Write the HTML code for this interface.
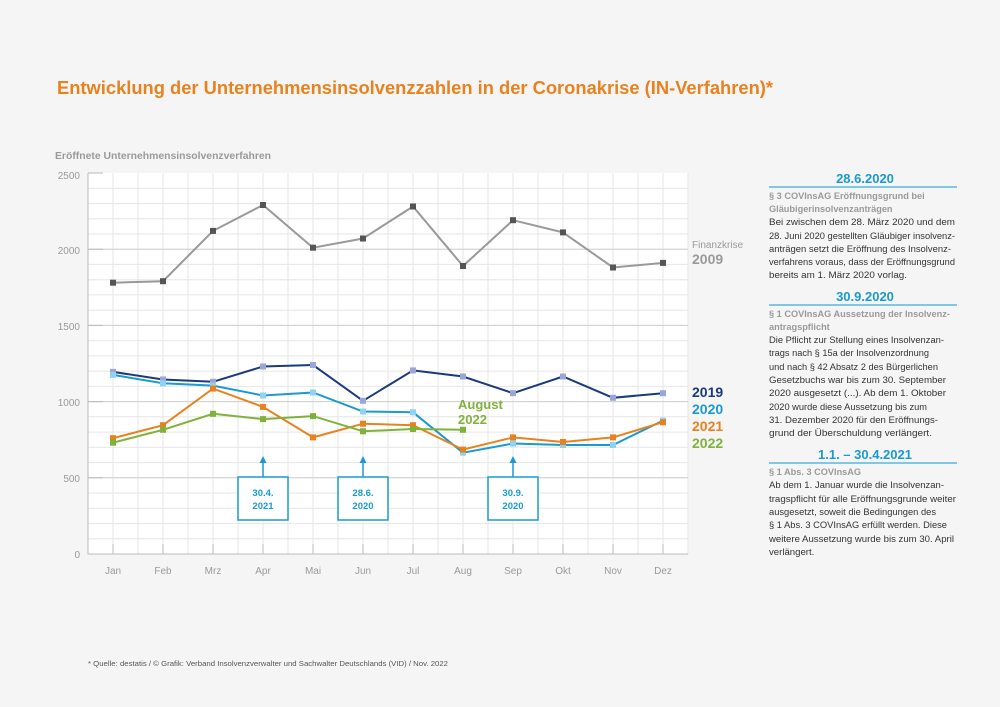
<!DOCTYPE html>
<html><head><meta charset="utf-8"><style>
html,body{margin:0;padding:0;background:#f5f5f5;}
svg{display:block;font-family:"Liberation Sans",sans-serif;}
</style></head><body>
<svg width="1000" height="707" viewBox="0 0 1000 707" xmlns="http://www.w3.org/2000/svg">
<rect width="1000" height="707" fill="#f5f5f5"/>
<text x="57" y="94" font-size="18" font-weight="bold" fill="#e8821e" textLength="716" lengthAdjust="spacingAndGlyphs">Entwicklung der Unternehmensinsolvenzzahlen in der Coronakrise (IN-Verfahren)*</text>
<text x="55" y="159" font-size="10" font-weight="bold" fill="#9a9a9a" textLength="216" lengthAdjust="spacingAndGlyphs">Eröffnete Unternehmensinsolvenzverfahren</text>
<rect x="88" y="173" width="600" height="381" fill="#fff"/>
<g stroke="#e6e6e6" stroke-width="1">
<path d="M88 188.2H688M88 203.5H688M88 218.7H688M88 234H688M88 249.2H688M88 264.4H688M88 279.7H688M88 294.9H688M88 310.2H688M88 325.4H688M88 340.6H688M88 355.9H688M88 371.1H688M88 386.4H688M88 401.6H688M88 416.8H688M88 432.1H688M88 447.3H688M88 462.6H688M88 477.8H688M88 493H688M88 508.3H688M88 523.5H688M88 538.8H688"/>
<path d="M113 173V554M138 173V554M163 173V554M188 173V554M213 173V554M238 173V554M263 173V554M288 173V554M313 173V554M338 173V554M363 173V554M388 173V554M413 173V554M438 173V554M463 173V554M488 173V554M513 173V554M538 173V554M563 173V554M588 173V554M613 173V554M638 173V554M663 173V554M688 173V554"/>
</g>
<g stroke="#d0d0d0" stroke-width="1">
<path d="M88 249.2H688M88 325.4H688M88 401.6H688M88 477.8H688"/>
</g>
<path d="M88 173V554H688" stroke="#bbb" fill="none"/>
<path d="M88 173H103M88 249.2H103M88 325.4H103M88 401.6H103M88 477.8H103" stroke="#bbb"/>
<g stroke="#bbb"><path d="M113 544V554M163 544V554M213 544V554M263 544V554M313 544V554M363 544V554M413 544V554M463 544V554M513 544V554M563 544V554M613 544V554M663 544V554"/></g>
<g font-size="10" fill="#9a9a9a" text-anchor="end">
<text x="80" y="179">2500</text><text x="80" y="254">2000</text><text x="80" y="330">1500</text><text x="80" y="406">1000</text><text x="80" y="482">500</text><text x="80" y="558">0</text>
</g>
<g font-size="10" fill="#9a9a9a" text-anchor="middle">
<text x="113" y="574">Jan</text><text x="163" y="574">Feb</text><text x="213" y="574">Mrz</text><text x="263" y="574">Apr</text><text x="313" y="574">Mai</text><text x="363" y="574">Jun</text><text x="413" y="574">Jul</text><text x="463" y="574">Aug</text><text x="513" y="574">Sep</text><text x="563" y="574">Okt</text><text x="613" y="574">Nov</text><text x="663" y="574">Dez</text>
</g>
<!-- series -->
<g fill="none" stroke-width="2">
<polyline stroke="#999" points="113,282.7 163,281.2 213,230.9 263,205 313,247.7 363,238.5 413,206.5 463,266 513,220.2 563,232.4 613,267.5 663,262.9"/>
<polyline stroke="#1b3a7a" points="113,371.9 163,379.5 213,381.8 263,366.5 313,365 363,400.8 413,370.4 463,376.5 513,393.2 563,376.5 613,397.8 663,393.2"/>
<polyline stroke="#1a9ad0" points="113,374.9 163,383.3 213,385.6 263,395.5 313,392.5 363,411.5 413,412.3 463,452.7 513,443.5 563,445 613,445 663,420.6"/>
<polyline stroke="#e8821e" points="113,438.2 163,425.2 213,388.6 263,406.9 313,437.4 363,423.7 413,425.2 463,449.6 513,437.4 563,442 613,437.4 663,422.2"/>
<polyline stroke="#7fb23a" points="113,442.7 163,429.8 213,413.8 263,419.1 313,416.1 363,431.3 413,429 463,429.8"/>
</g>
<g fill="#555">
<rect x="110" y="279.7" width="6" height="6"/><rect x="160" y="278.2" width="6" height="6"/><rect x="210" y="227.9" width="6" height="6"/><rect x="260" y="202" width="6" height="6"/><rect x="310" y="244.7" width="6" height="6"/><rect x="360" y="235.5" width="6" height="6"/><rect x="410" y="203.5" width="6" height="6"/><rect x="460" y="263" width="6" height="6"/><rect x="510" y="217.2" width="6" height="6"/><rect x="560" y="229.4" width="6" height="6"/><rect x="610" y="264.5" width="6" height="6"/><rect x="660" y="259.9" width="6" height="6"/>
</g>
<g fill="#9aa6d8">
<rect x="110" y="368.9" width="6" height="6"/><rect x="160" y="376.5" width="6" height="6"/><rect x="210" y="378.8" width="6" height="6"/><rect x="260" y="363.5" width="6" height="6"/><rect x="310" y="362" width="6" height="6"/><rect x="360" y="397.8" width="6" height="6"/><rect x="410" y="367.4" width="6" height="6"/><rect x="460" y="373.5" width="6" height="6"/><rect x="510" y="390.2" width="6" height="6"/><rect x="560" y="373.5" width="6" height="6"/><rect x="610" y="394.8" width="6" height="6"/><rect x="660" y="390.2" width="6" height="6"/>
</g>
<g fill="#8fd3f0">
<rect x="110" y="371.9" width="6" height="6"/><rect x="160" y="380.3" width="6" height="6"/><rect x="210" y="382.6" width="6" height="6"/><rect x="260" y="392.5" width="6" height="6"/><rect x="310" y="389.5" width="6" height="6"/><rect x="360" y="408.5" width="6" height="6"/><rect x="410" y="409.3" width="6" height="6"/><rect x="460" y="449.7" width="6" height="6"/><rect x="510" y="440.5" width="6" height="6"/><rect x="560" y="442" width="6" height="6"/><rect x="610" y="442" width="6" height="6"/><rect x="660" y="417.6" width="6" height="6"/>
</g>
<g fill="#e8821e">
<rect x="110" y="435.2" width="6" height="6"/><rect x="160" y="422.2" width="6" height="6"/><rect x="210" y="385.6" width="6" height="6"/><rect x="260" y="403.9" width="6" height="6"/><rect x="310" y="434.4" width="6" height="6"/><rect x="360" y="420.7" width="6" height="6"/><rect x="410" y="422.2" width="6" height="6"/><rect x="460" y="446.6" width="6" height="6"/><rect x="510" y="434.4" width="6" height="6"/><rect x="560" y="439" width="6" height="6"/><rect x="610" y="434.4" width="6" height="6"/><rect x="660" y="419.2" width="6" height="6"/>
</g>
<g fill="#7fb23a">
<rect x="110" y="439.7" width="6" height="6"/><rect x="160" y="426.8" width="6" height="6"/><rect x="210" y="410.8" width="6" height="6"/><rect x="260" y="416.1" width="6" height="6"/><rect x="310" y="413.1" width="6" height="6"/><rect x="360" y="428.3" width="6" height="6"/><rect x="410" y="426" width="6" height="6"/><rect x="460" y="426.8" width="6" height="6"/>
</g>
<!-- annotations -->
<g stroke="#1a9ad0" stroke-width="1.5" fill="#fff">
<path d="M263 477V462M363 477V462M513 477V462" fill="none"/>
<rect x="238" y="477" width="50" height="43"/><rect x="338" y="477" width="50" height="43"/><rect x="488" y="477" width="50" height="43"/>
</g>
<g fill="#1a9ad0"><path d="M259.5 463L263 456 266.5 463Z"/><path d="M359.5 463L363 456 366.5 463Z"/><path d="M509.5 463L513 456 516.5 463Z"/></g>
<g font-size="9.5" font-weight="bold" fill="#1a9ad0" text-anchor="middle">
<text x="263" y="496">30.4.</text><text x="263" y="509">2021</text>
<text x="363" y="496">28.6.</text><text x="363" y="509">2020</text>
<text x="513" y="496">30.9.</text><text x="513" y="509">2020</text>
</g>
<text x="458" y="409" font-size="13" font-weight="bold" fill="#7fb23a">August</text>
<text x="458" y="424" font-size="13" font-weight="bold" fill="#7fb23a">2022</text>
<text x="692" y="248" font-size="10" fill="#9a9a9a">Finanzkrise</text>
<text x="692" y="264" font-size="14" font-weight="bold" fill="#9a9a9a">2009</text>
<g font-size="14" font-weight="bold">
<text x="692" y="397" fill="#1b3a7a">2019</text>
<text x="692" y="414" fill="#1a9ad0">2020</text>
<text x="692" y="431" fill="#e8821e">2021</text>
<text x="692" y="448" fill="#7fb23a">2022</text>
</g>
<!-- right panel -->
<g font-size="13" font-weight="bold" fill="#1a9ad0" text-anchor="middle">
<text x="865" y="183">28.6.2020</text>
<text x="865" y="301">30.9.2020</text>
<text x="865" y="459">1.1. – 30.4.2021</text>
</g>
<g stroke="#5ab8e0" stroke-width="1.5"><path d="M769 187H957M769 305H957M769 463H957"/></g>
<g font-size="9.2" font-weight="bold" fill="#9a9a9a">
<text x="769" y="199">§ 3 COVInsAG Eröffnungsgrund bei</text>
<text x="769" y="212">Gläubigerinsolvenzanträgen</text>
<text x="769" y="317">§ 1 COVInsAG Aussetzung der Insolvenz-</text>
<text x="769" y="330">antragspflicht</text>
<text x="769" y="475">§ 1 Abs. 3 COVInsAG</text>
</g>
<g font-size="9.6" fill="#333">
<text x="769" y="225" textLength="186" lengthAdjust="spacingAndGlyphs">Bei zwischen dem 28. März 2020 und dem</text>
<text x="769" y="239" textLength="186" lengthAdjust="spacingAndGlyphs">28. Juni 2020 gestellten Gläubiger insolvenz-</text>
<text x="769" y="252" textLength="182" lengthAdjust="spacingAndGlyphs">anträgen setzt die Eröffnung des Insolvenz-</text>
<text x="769" y="265" textLength="186" lengthAdjust="spacingAndGlyphs">verfahrens voraus, dass der Eröffnungsgrund</text>
<text x="769" y="278" textLength="138" lengthAdjust="spacingAndGlyphs">bereits am 1. März 2020 vorlag.</text>
<text x="769" y="343" textLength="175" lengthAdjust="spacingAndGlyphs">Die Pflicht zur Stellung eines Insolvenzan-</text>
<text x="769" y="356" textLength="160" lengthAdjust="spacingAndGlyphs">trags nach § 15a der Insolvenzordnung</text>
<text x="769" y="370" textLength="169" lengthAdjust="spacingAndGlyphs">und nach § 42 Absatz 2 des Bürgerlichen</text>
<text x="769" y="383" textLength="177" lengthAdjust="spacingAndGlyphs">Gesetzbuchs war bis zum 30. September</text>
<text x="769" y="396" textLength="177" lengthAdjust="spacingAndGlyphs">2020 ausgesetzt (...). Ab dem 1. Oktober</text>
<text x="769" y="410" textLength="158" lengthAdjust="spacingAndGlyphs">2020 wurde diese Aussetzung bis zum</text>
<text x="769" y="423" textLength="169" lengthAdjust="spacingAndGlyphs">31. Dezember 2020 für den Eröffnungs-</text>
<text x="769" y="436" textLength="163" lengthAdjust="spacingAndGlyphs">grund der Überschuldung verlängert.</text>
<text x="769" y="488" textLength="175" lengthAdjust="spacingAndGlyphs">Ab dem 1. Januar wurde die Insolvenzan-</text>
<text x="769" y="502" textLength="187" lengthAdjust="spacingAndGlyphs">tragspflicht für alle Eröffnungsgrunde weiter</text>
<text x="769" y="515" textLength="167" lengthAdjust="spacingAndGlyphs">ausgesetzt, soweit die Bedingungen des</text>
<text x="769" y="528" textLength="178" lengthAdjust="spacingAndGlyphs">§ 1 Abs. 3 COVInsAG erfüllt werden. Diese</text>
<text x="769" y="542" textLength="185" lengthAdjust="spacingAndGlyphs">weitere Aussetzung wurde bis zum 30. April</text>
<text x="769" y="555">verlängert.</text>
</g>
<text x="88" y="666" font-size="7.5" fill="#555" textLength="360" lengthAdjust="spacingAndGlyphs">* Quelle: destatis / © Grafik: Verband Insolvenzverwalter und Sachwalter Deutschlands (VID) / Nov. 2022</text>
</svg>
</body></html>
